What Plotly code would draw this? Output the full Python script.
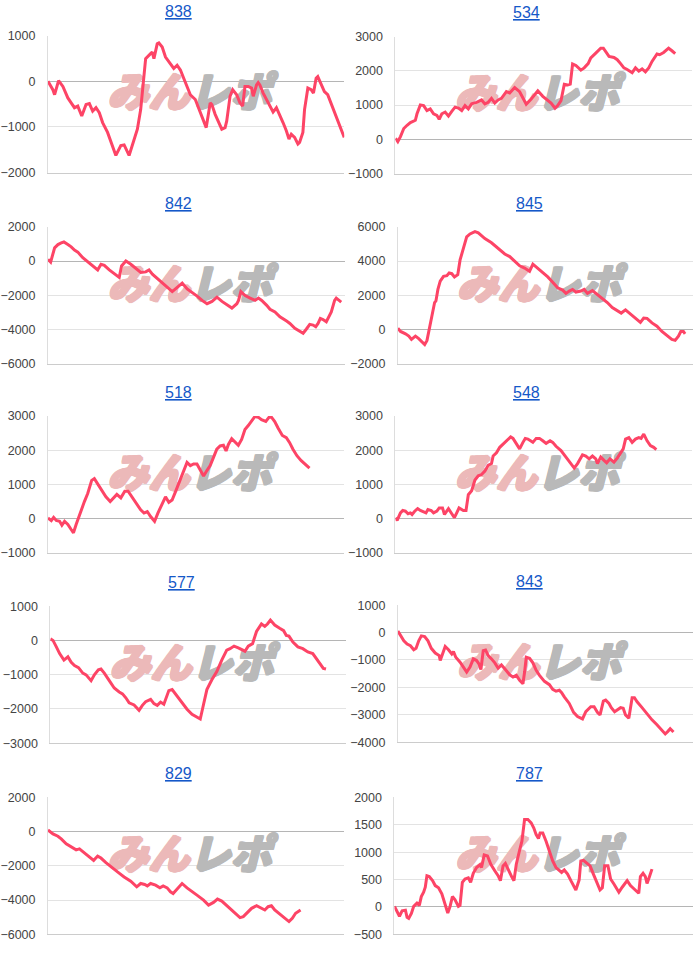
import plotly.graph_objects as go

# ---------------- data (x = game position, y = balance) ----------------
TITLES = ["838", "534", "842", "845", "518", "548", "577", "843", "829", "787"]
Y_RANGES = [(-2000, 1000), (-1000, 3000), (-6000, 2000), (-2000, 6000), (-1000, 3000),
            (-1000, 3000), (-3000, 1000), (-4000, 1000), (-6000, 2000), (-500, 2000)]
Y_DTICK = [1000, 1000, 2000, 2000, 1000, 1000, 1000, 1000, 2000, 500]
X_SPAN = [895, 895, 895, 893, 895, 895, 893, 893, 895, 903]

S838 = [(0, 0), (15, -190), (20, -295), (32, 15), (45, -115), (60, -365), (70, -475), (80, -580), (90, -545),
        (102, -760), (115, -510), (125, -490), (135, -655), (145, -580), (155, -690), (165, -905), (180, -1120),
        (190, -1340), (205, -1625), (220, -1410), (230, -1395), (245, -1625), (260, -1265), (270, -1050),
        (280, -620), (290, 245), (295, 495), (310, 605), (315, 640), (320, 495), (330, 820), (335, 840),
        (345, 750), (355, 530), (365, 425), (380, 280), (390, 350), (400, 245), (410, 65), (420, -115),
        (430, -295), (445, -400), (460, -690), (470, -870), (478, -1015), (490, -475), (495, -510), (505, -725),
        (515, -905), (525, -1050), (535, -1015), (540, -870), (550, -330), (558, -185), (570, -295), (580, -475),
        (588, -545), (595, -115), (605, -115), (615, -150), (620, -330), (630, -80), (635, -30), (640, -80),
        (650, -260), (660, -400), (670, -545), (680, -675), (690, -580), (700, -725), (710, -905), (720, -1085),
        (728, -1265), (735, -1160), (745, -1230), (755, -1375), (760, -1340), (770, -1120), (775, -620),
        (785, -150), (795, -185), (802, -260), (810, 65), (815, 100), (825, -80), (835, -225), (845, -295),
        (855, -475), (865, -690), (875, -870), (885, -1015), (895, -1230)]

S534 = [(0, 30), (7, -70), (15, 80), (25, 315), (35, 410), (45, 490), (60, 555), (65, 745), (75, 1005), (85, 985),
        (95, 840), (105, 890), (115, 745), (125, 700), (132, 585), (140, 745), (150, 795), (160, 680), (170, 815),
        (180, 940), (190, 910), (200, 840), (210, 985), (220, 890), (230, 1035), (245, 1080), (260, 1150),
        (270, 1035), (280, 1080), (290, 1195), (300, 1060), (310, 1150), (320, 1195), (335, 1390), (345, 1350),
        (360, 1510), (375, 1390), (385, 1225), (395, 1025), (410, 1175), (430, 1415), (445, 1255), (460, 1130),
        (470, 1060), (482, 910), (490, 985), (500, 1130), (510, 1610), (520, 1590), (528, 1610), (535, 2200),
        (545, 2155), (560, 2020), (570, 2085), (582, 2210), (590, 2375), (605, 2515), (620, 2660), (628, 2660),
        (635, 2565), (645, 2420), (660, 2390), (670, 2325), (680, 2210), (690, 2085), (700, 2040), (715, 1945),
        (725, 2085), (735, 1990), (745, 2055), (755, 1970), (765, 2085), (775, 2275), (790, 2490), (798, 2470),
        (810, 2535), (825, 2660), (835, 2585), (845, 2500)]

S842 = [(0, 95), (8, -60), (20, 770), (30, 960), (40, 1055), (48, 1110), (60, 960), (70, 825), (80, 635), (90, 520),
        (105, 190), (120, -60), (135, -325), (150, -520), (160, -190), (170, -250), (185, -520), (200, -765),
        (215, -960), (222, -290), (235, 0), (250, -190), (265, -440), (280, -670), (295, -635), (305, -520),
        (315, -765), (330, -1015), (345, -1285), (360, -1535), (375, -1785), (390, -1535), (405, -1285),
        (420, -1630), (435, -1820), (450, -2050), (465, -2300), (480, -2495), (495, -2360), (510, -2110),
        (525, -2360), (540, -2550), (555, -2745), (570, -2495), (575, -2300), (582, -1785), (595, -2015),
        (610, -2165), (625, -2300), (635, -2165), (645, -2300), (660, -2590), (670, -2820), (685, -2975),
        (700, -3260), (720, -3510), (730, -3645), (745, -3930), (760, -4085), (770, -4220), (780, -3970),
        (790, -3700), (800, -3740), (808, -3835), (815, -3645), (822, -3355), (830, -3415), (840, -3550),
        (855, -2975), (865, -2300), (870, -2165), (885, -2400)]

S845 = [(0, 75), (8, -115), (23, -250), (33, -385), (41, -575), (48, -440), (53, -385), (63, -535), (73, -730),
        (81, -880), (88, -635), (93, -155), (103, 1000), (111, 1575), (115, 1670), (121, 2340), (128, 2820),
        (138, 3105), (148, 3145), (155, 3300), (163, 3260), (171, 3070), (181, 3205), (188, 4065), (198, 4735),
        (208, 5410), (218, 5580), (233, 5720), (243, 5650), (263, 5310), (283, 5065), (303, 4735), (323, 4410),
        (338, 4260), (353, 3970), (368, 3720), (383, 3585), (398, 3395), (408, 3815), (423, 3585), (438, 3300),
        (453, 3070), (468, 2760), (483, 2435), (498, 2300), (508, 2110), (518, 2245), (528, 2340), (538, 2185),
        (553, 2245), (563, 2340), (573, 2110), (588, 2280), (603, 2050), (618, 1805), (633, 1575), (648, 1285),
        (663, 1095), (675, 960), (688, 1150), (703, 900), (718, 650), (733, 420), (743, 670), (753, 650),
        (768, 385), (783, 190), (798, -115), (813, -345), (828, -575), (838, -635), (848, -385), (855, -115),
        (863, -115), (868, -250)]

S518 = [(0, 20), (10, -55), (17, 40), (25, -50), (35, -75), (42, -190), (50, -75), (60, -170), (70, -315),
        (77, -410), (85, -170), (95, 115), (110, 500), (120, 735), (132, 1120), (140, 1170), (150, 1025),
        (165, 785), (175, 640), (188, 500), (198, 595), (208, 710), (220, 610), (232, 805), (242, 805), (250, 690),
        (265, 500), (280, 260), (290, 165), (300, 210), (310, 65), (322, -75), (332, 165), (345, 450), (355, 640),
        (365, 480), (375, 545), (385, 785), (400, 1170), (410, 1405), (420, 1645), (430, 1550), (440, 1600),
        (450, 1600), (460, 1405), (470, 1245), (480, 1405), (490, 1550), (500, 1790), (510, 2030), (520, 2125),
        (530, 2145), (538, 1980), (545, 2170), (555, 2335), (565, 2240), (575, 2145), (585, 2315), (595, 2605),
        (605, 2720), (615, 2840), (625, 2985), (635, 2965), (645, 2890), (658, 2840), (668, 2965), (675, 2965),
        (685, 2840), (695, 2650), (708, 2430), (720, 2365), (730, 2220), (740, 2030), (752, 1840), (765, 1695),
        (775, 1600), (785, 1520), (790, 1475)]

S548 = [(0, 30), (5, -50), (15, 170), (22, 240), (30, 220), (38, 145), (45, 170), (50, 125), (58, 220), (67, 295),
        (75, 240), (85, 200), (92, 170), (98, 270), (108, 240), (115, 170), (125, 220), (132, 315), (142, 315),
        (148, 125), (160, 295), (170, 145), (178, 30), (185, 170), (192, 315), (205, 240), (213, 240), (220, 700),
        (230, 815), (240, 1130), (250, 1255), (260, 1290), (270, 1390), (280, 1560), (290, 1610), (295, 1830),
        (305, 1925), (315, 2085), (330, 2230), (340, 2325), (348, 2390), (355, 2345), (365, 2180), (375, 2040),
        (385, 2230), (392, 2345), (400, 2325), (415, 2230), (425, 2345), (435, 2345), (445, 2275), (455, 2200),
        (467, 2275), (475, 2230), (485, 2115), (500, 1990), (515, 1800), (530, 1610), (540, 1480), (550, 1610),
        (565, 1865), (575, 1830), (585, 1750), (595, 1830), (605, 1750), (610, 1610), (620, 1800), (630, 1705),
        (638, 1635), (648, 1750), (660, 1655), (670, 1770), (682, 1945), (688, 2040), (695, 2325), (705, 2370),
        (715, 2230), (725, 2325), (735, 2370), (742, 2345), (750, 2470), (760, 2275), (770, 2135), (780, 2085),
        (788, 2020)]

S577 = [(0, 50), (8, 0), (18, -190), (28, -385), (41, -575), (53, -480), (63, -640), (73, -735), (85, -795),
        (98, -955), (108, -1005), (123, -1175), (133, -1005), (145, -860), (153, -835), (163, -955), (178, -1175),
        (193, -1390), (208, -1505), (218, -1560), (228, -1675), (238, -1820), (253, -1885), (268, -2040),
        (278, -1895), (288, -1790), (303, -1720), (313, -1845), (323, -1895), (333, -1800), (343, -1865),
        (358, -1465), (368, -1435), (383, -1625), (398, -1820), (413, -2010), (428, -2155), (443, -2250),
        (453, -2295), (463, -1865), (473, -1435), (488, -1150), (503, -910), (518, -575), (533, -285), (543, -240),
        (555, -165), (568, -220), (578, -260), (588, -315), (598, -165), (611, -95), (623, 260), (638, 480),
        (648, 410), (656, 480), (665, 595), (678, 450), (693, 355), (705, 285), (713, 145), (721, 125), (733, -50),
        (748, -190), (763, -240), (778, -335), (793, -385), (808, -575), (818, -700), (825, -815), (833, -835)]

S843 = [(0, 60), (8, -120), (18, -300), (28, -420), (38, -480), (48, -625), (55, -575), (63, -300), (71, -120),
        (81, -145), (91, -300), (101, -575), (113, -745), (125, -840), (128, -1020), (135, -780), (143, -505),
        (153, -625), (163, -780), (168, -695), (175, -900), (188, -1080), (198, -1260), (208, -1440), (218, -1260),
        (228, -960), (238, -1020), (245, -1140), (251, -1345), (258, -660), (265, -635), (273, -840), (283, -960),
        (293, -1105), (303, -1300), (313, -1180), (323, -1320), (338, -1540), (348, -1625), (358, -1560),
        (368, -1745), (378, -1865), (383, -1440), (388, -900), (398, -940), (408, -1105), (418, -1380),
        (428, -1560), (443, -1780), (458, -1900), (468, -2070), (478, -2140), (488, -2105), (495, -2190),
        (503, -2345), (518, -2585), (531, -2910), (543, -3065), (558, -3150), (568, -2885), (583, -2705),
        (593, -2705), (603, -2910), (611, -3005), (621, -2500), (628, -2465), (638, -2585), (645, -2740),
        (655, -2885), (663, -2825), (673, -2740), (681, -2765), (688, -3005), (698, -3125), (708, -2380),
        (715, -2380), (723, -2525), (738, -2740), (753, -2980), (768, -3185), (783, -3365), (798, -3545),
        (808, -3700), (816, -3605), (823, -3510), (833, -3630)]

S829 = [(0, 95), (15, -135), (30, -270), (40, -425), (55, -715), (70, -910), (85, -1065), (95, -1005), (110, -1235),
        (125, -1430), (138, -1680), (150, -1430), (160, -1545), (175, -1815), (190, -2065), (210, -2355),
        (230, -2645), (250, -2900), (268, -3225), (280, -3030), (292, -3090), (300, -3170), (310, -3030),
        (325, -3130), (338, -3285), (348, -3170), (360, -3285), (370, -3515), (378, -3615), (390, -3325),
        (405, -3030), (420, -3285), (435, -3480), (450, -3710), (470, -4000), (485, -4290), (500, -4135),
        (512, -3940), (525, -4060), (538, -4290), (555, -4580), (570, -4830), (580, -5025), (590, -4965),
        (600, -4770), (615, -4480), (630, -4330), (642, -4445), (655, -4580), (665, -4385), (675, -4330),
        (685, -4580), (700, -4830), (715, -5025), (728, -5255), (738, -5060), (748, -4770), (763, -4580)]

S787 = [(0, 10), (8, -90), (15, -170), (23, -70), (33, -60), (38, -190), (43, -210), (51, -120), (58, 10), (68, 70),
        (75, 30), (81, 190), (88, 270), (93, 360), (98, 570), (105, 555), (115, 480), (123, 390), (133, 350),
        (143, 240), (153, 60), (161, -110), (168, 10), (175, 190), (183, 130), (193, 10), (198, 30), (205, 450),
        (213, 510), (223, 530), (230, 450), (238, 615), (248, 720), (258, 770), (263, 720), (271, 950), (281, 930),
        (291, 780), (303, 660), (313, 570), (320, 480), (328, 750), (335, 795), (345, 660), (355, 540), (361, 480),
        (368, 780), (378, 1035), (385, 1200), (393, 1595), (403, 1595), (413, 1535), (421, 1440), (428, 1320),
        (435, 1250), (440, 1350), (448, 1350), (458, 1200), (468, 1020), (478, 840), (488, 720), (498, 675),
        (505, 630), (513, 675), (523, 600), (533, 480), (543, 360), (548, 310), (558, 495), (563, 840), (571, 850),
        (581, 795), (591, 750), (601, 600), (611, 450), (621, 310), (628, 350), (635, 750), (645, 750), (653, 510),
        (663, 420), (673, 300), (678, 270), (688, 360), (703, 480), (713, 390), (723, 330), (733, 270), (738, 250),
        (743, 555), (751, 615), (758, 555), (763, 430), (768, 510), (778, 690)]

SERIES = [S838, S534, S842, S845, S518, S548, S577, S843, S829, S787]

# ---------------- layout geometry (pixels) ----------------
W, H = 700, 965
PLOT_H = 139
LEFTS = [43.3, 393.3, 43.3, 395.7, 43.3, 393.3, 45.7, 395.7, 43.3, 392.3]
RIGHTS = [341.7, 691.7, 342.0, 693.3, 341.7, 691.7, 343.3, 693.3, 341.7, 693.3]
TOPS = [29, 30, 223, 223, 415, 415, 608, 607, 802, 802]
TITLE_X = [175, 525, 175, 528, 175, 525, 178, 528, 175, 528]

LINE_COLOR = "#fd4466"
FONT = "Liberation Sans, Arial, sans-serif"
LOGO_PINK = "#ecb9b9"
LOGO_GRAY = "#b9b9b9"


def thick(c):
    return ", ".join(f"{dx}px {dy}px 0 {c}" for dx, dy in
                     [(1, 0), (-1, 0), (0, 1), (0, -1), (1, 1), (-1, -1), (1, -1), (-1, 1)])


fig = go.Figure()
for i in range(10):
    n = "" if i == 0 else str(i + 1)
    xa, ya = "x" + n, "y" + n
    lo, hi = Y_RANGES[i]
    span = X_SPAN[i]
    ylogo = lo + (hi - lo) * 0.55
    xlogo = span * 0.478

    # watermark logo (drawn under the line)
    for txt, col, pos in (("みん", LOGO_PINK, "middle left"), ("レポ", LOGO_GRAY, "middle right")):
        fig.add_trace(go.Scatter(
            x=[xlogo], y=[ylogo], mode="text", text=[txt], textposition=pos,
            textfont=dict(family="Noto Sans CJK JP", size=41, weight=900, style="italic",
                          color=col, shadow=thick(col)),
            xaxis=xa, yaxis=ya, hoverinfo="skip", showlegend=False))

    xs = [p[0] for p in SERIES[i]]
    ys = [p[1] for p in SERIES[i]]
    fig.add_trace(go.Scatter(
        x=xs, y=ys, mode="lines", line=dict(color=LINE_COLOR, width=3),
        xaxis=xa, yaxis=ya, showlegend=False, hoverinfo="skip"))

    fig.layout["xaxis" + n] = dict(
        domain=[LEFTS[i] / W, RIGHTS[i] / W], range=[0, span], anchor=ya,
        showgrid=False, zeroline=False, showticklabels=False,
        showline=True, linecolor="#cccccc", linewidth=1, fixedrange=True)
    fig.layout["yaxis" + n] = dict(
        domain=[1 - (TOPS[i] + PLOT_H) / H, 1 - TOPS[i] / H], range=[lo, hi], anchor=xa,
        tick0=0, dtick=Y_DTICK[i], showgrid=True, gridcolor="#e3e3e3", gridwidth=1,
        zeroline=True, zerolinecolor="#b5b5b5", zerolinewidth=1,
        showline=True, linecolor="#dddddd", linewidth=1,
        tickfont=dict(family=FONT, size=12.5, color="#444444"),
        ticklabelstandoff=9, fixedrange=True)

    fig.add_annotation(
        x=TITLE_X[i] / W, y=1 - (TOPS[i] - 24) / H, xref="paper", yref="paper",
        text="<u>" + TITLES[i] + "</u>", showarrow=False, xanchor="center", yanchor="middle",
        font=dict(family=FONT, size=16, color="#1558c8"))

fig.update_layout(
    width=W, height=H, margin=dict(l=0, r=0, t=0, b=0),
    paper_bgcolor="white", plot_bgcolor="white", showlegend=False)

fig.write_html("out.html")
